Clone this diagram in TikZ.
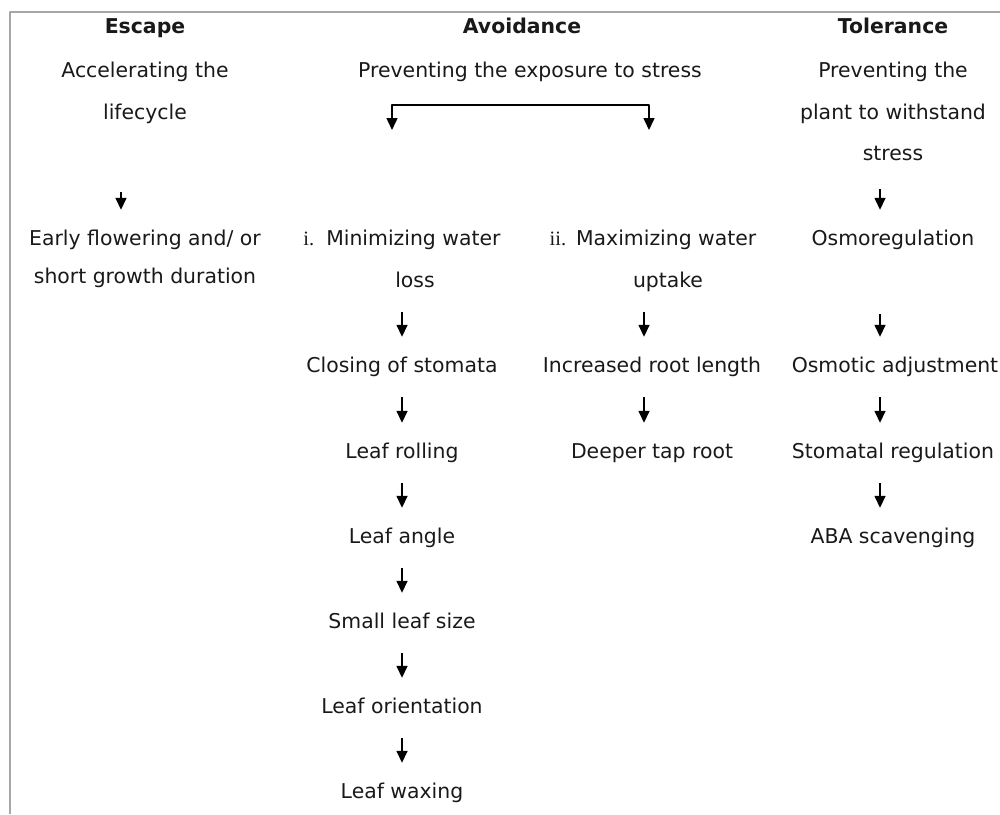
\documentclass[tikz,border=0pt]{standalone}
\usepackage{fontspec}
\setmainfont{DejaVu Sans}
\newfontfamily\romnum{Liberation Serif}
\usetikzlibrary{arrows.meta}
\tikzset{
	txt/.style={inner sep=0pt, text height=15pt, text depth=5pt, text=black!90, font=\fontsize{20.4}{24}\selectfont},
	ttl/.style={txt, font=\fontsize{20.4}{24}\selectfont\bfseries},
	arr/.style={line width=1.5pt, -{Triangle[width=11pt,length=12pt]}, shorten <=20pt, shorten >=20pt},
	fork/.style={line width=1.5pt, {Triangle[width=11pt,length=12pt]}-{Triangle[width=11pt,length=12pt]}},
	frame/.style={draw=gray!70, line width=2pt}
}
\begin{document}
\begin{tikzpicture}[x=1pt,y=-1pt,line join = round]
			\useasboundingbox (0,0) rectangle (1000,814);
			\draw[frame] (1000,12) -- (10,12) -- (10,814);
			\coordinate (colE) at (121,0);
			\coordinate (colI) at (402,0);
			\coordinate (colII) at (644,0);
			\coordinate (colT) at (880,0);
			\node[ttl] (escT) at (145,28) {Escape};
			\node[txt] (escA1) at (145,72) {Accelerating the};
			\node[txt] (escA2) at (145,114) {lifecycle};
			\node[txt] (early1) at (145,240) {Early flowering and/ or};
			\node[txt] (early2) at (145,278) {short growth duration};
			\node[ttl] (avT) at (522,28) {Avoidance};
			\node[txt] (avP) at (530,72) {Preventing the exposure to stress};
			\node[txt] (minim1) at (402,240) {{\romnum i.}\hspace{12pt}Minimizing water};
			\node[txt] (minim2) at (415,282) {loss};
			\node[txt] (maxim1) at (653,240) {{\romnum ii.}\hspace{10pt}Maximizing water};
			\node[txt] (maxim2) at (668,282) {uptake};
			\node[txt] (closing) at (402,367) {Closing of stomata};
			\node[txt] (rolling) at (402,453) {Leaf rolling};
			\node[txt] (angle) at (402,538) {Leaf angle};
			\node[txt] (small) at (402,623) {Small leaf size};
			\node[txt] (orient) at (402,708) {Leaf orientation};
			\node[txt] (waxing) at (402,793) {Leaf waxing};
			\node[txt] (rootlen) at (652,367) {Increased root length};
			\node[txt] (taproot) at (652,453) {Deeper tap root};
			\node[ttl] (tolT) at (893,28) {Tolerance};
			\node[txt] (tolP1) at (893,72) {Preventing the};
			\node[txt] (tolP2) at (893,114) {plant to withstand};
			\node[txt] (tolP3) at (893,155) {stress};
			\node[txt] (osmoreg) at (893,240) {Osmoregulation};
			\node[txt] (osmadj) at (895,367) {Osmotic adjustment};
			\node[txt] (stomreg) at (893,453) {Stomatal regulation};
			\node[txt] (aba) at (893,538) {ABA scavenging};
			\coordinate (splitL) at (392,130);
			\coordinate (splitR) at (649,105);
			\coordinate (endR) at (649,130);
			\draw[fork] (splitL) |- (splitR) -- (endR);
			\draw[arr, shorten <=68pt] (escA2.south -| colE) -- (early1.north -| colE);
			\foreach \a/\b in {minim2/closing, closing/rolling, rolling/angle, angle/small, small/orient, orient/waxing}
				\draw[arr] (\a.south -| colI) -- (\b.north -| colI);
			\foreach \a/\b in {maxim2/rootlen, rootlen/taproot}
				\draw[arr] (\a.south -| colII) -- (\b.north -| colII);
			\draw[arr, shorten <=24pt] (tolP3.south -| colT) -- (osmoreg.north -| colT);
			\draw[arr, shorten <=64pt] (osmoreg.south -| colT) -- (osmadj.north -| colT);
			\foreach \a/\b in {osmadj/stomreg, stomreg/aba}
				\draw[arr] (\a.south -| colT) -- (\b.north -| colT);
		\end{tikzpicture}
\end{document}
